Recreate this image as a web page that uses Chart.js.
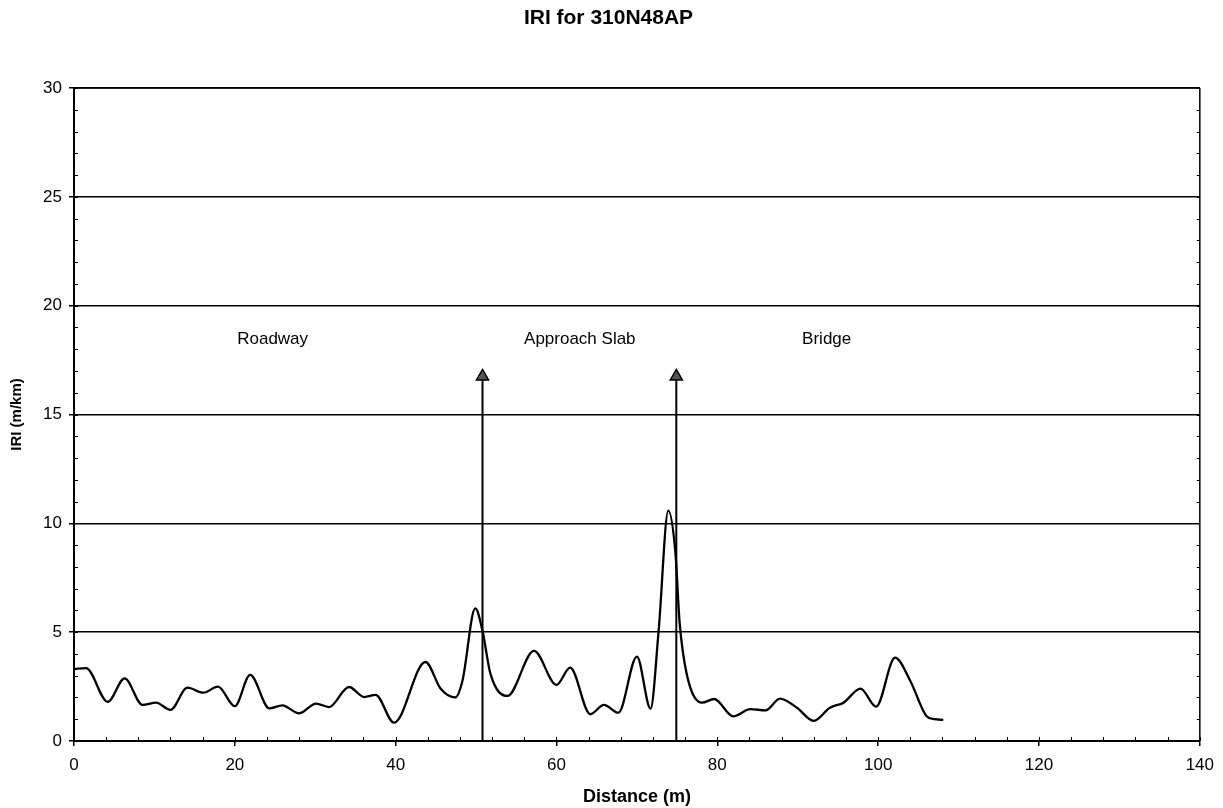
<!DOCTYPE html>
<html><head><meta charset="utf-8">
<script src="https://cdn.jsdelivr.net/npm/chart.js@4.4.0/dist/chart.umd.min.js"></script>
<style>html,body{margin:0;padding:0;background:#fff;}#wrap{width:1223px;height:808px;}</style>
</head><body><div id="wrap"><canvas id="c" width="1223" height="808"></canvas></div>
<script>
const chartTitle = 'IRI for 310N48AP';
const xAxisTitle = 'Distance (m)';
const yAxisTitle = 'IRI (m/km)';
const distance = [0, 1.5, 4.2, 6.3, 8.5, 10.2, 12.0, 14.1, 16.1, 17.9, 20.0, 21.9, 24.3, 25.9, 28.0, 30.1, 31.7, 34.2, 36.1, 37.5, 39.8, 43.7, 45.6, 47.4, 48.3, 49.9, 50.8, 51.8, 53.9, 57.2, 60.0, 61.7, 64.2, 65.9, 67.7, 70.0, 71.7, 72.7, 73.9, 74.8, 75.3, 76.2, 78.1, 79.6, 82.0, 84.1, 86.0, 87.8, 89.9, 92.0, 94.0, 95.7, 97.8, 99.75, 102.1, 104.0, 106.0, 107.0, 108.1];
const iri = [3.3, 3.35, 1.8, 2.88, 1.66, 1.76, 1.43, 2.45, 2.22, 2.5, 1.6, 3.04, 1.5, 1.64, 1.27, 1.72, 1.56, 2.48, 2.02, 2.12, 0.84, 3.63, 2.4, 2.0, 2.76, 6.09, 5.06, 3.07, 2.07, 4.14, 2.58, 3.37, 1.23, 1.66, 1.3, 3.88, 1.49, 5.06, 10.58, 8.6, 5.5, 3.07, 1.76, 1.93, 1.13, 1.46, 1.41, 1.95, 1.53, 0.92, 1.53, 1.76, 2.41, 1.58, 3.83, 2.76, 1.15, 1.0, 0.97];
const boundaryDistance = [50.8, 74.9];
const arrowTopIRI = 16.75;
const sectionNames = ['Roadway', 'Approach Slab', 'Bridge'];
const sectionLabelDistance = [24.7, 62.9, 93.6];
const sectionLabelIRI = 18.45;
const xTickValues = [0, 20, 40, 60, 80, 100, 120, 140];
const yTickValues = [0, 5, 10, 15, 20, 25, 30];
const xMinorStep = 4;
const yMinorStep = 1;

const FONT = "'Liberation Sans', Arial, sans-serif";
Chart.defaults.font.family = FONT;
Chart.defaults.color = '#000';

const framePlugin = {
  id: 'frame',
  afterDraw(chart) {
    const ctx = chart.ctx, ca = chart.chartArea, xs = chart.scales.x, ys = chart.scales.y;
    ctx.save();
    ctx.strokeStyle = '#000';
    ctx.lineWidth = 1.5;
    ctx.beginPath();
    ctx.moveTo(ca.left, ca.top); ctx.lineTo(ca.right, ca.top);
    ctx.moveTo(ca.right, ca.top); ctx.lineTo(ca.right, ca.bottom);
    ctx.stroke();
    ctx.lineWidth = 1;
    ctx.beginPath();
    const yMin = yTickValues[0], yMax = yTickValues[yTickValues.length - 1];
    for (let v = yMin; v <= yMax; v += yMinorStep) {
      const py = Math.round(ys.getPixelForValue(v)) + 0.5;
      ctx.moveTo(ca.left, py); ctx.lineTo(ca.left + 4, py);
      ctx.moveTo(ca.right - 3, py); ctx.lineTo(ca.right, py);
    }
    const xMin = xTickValues[0], xMax = xTickValues[xTickValues.length - 1];
    for (let v = xMin; v <= xMax; v += xMinorStep) {
      const px = Math.round(xs.getPixelForValue(v)) + 0.5;
      ctx.moveTo(px, ca.bottom); ctx.lineTo(px, ca.bottom - 4);
    }
    ctx.stroke();
    ctx.fillStyle = '#000';
    ctx.font = '17px ' + FONT;
    ctx.textAlign = 'center';
    ctx.textBaseline = 'middle';
    sectionNames.forEach((n, i) => {
      ctx.fillText(n, xs.getPixelForValue(sectionLabelDistance[i]), ys.getPixelForValue(sectionLabelIRI));
    });
    ctx.font = 'bold 21px ' + FONT;
    ctx.fillText(chartTitle, chart.width / 2 - 3, 18);
    ctx.restore();
  }
};

const datasets = [{
  data: distance.map((d, i) => ({x: d, y: iri[i]})),
  borderColor: '#000', borderWidth: 2.3, pointRadius: 0,
  cubicInterpolationMode: 'monotone', fill: false
}];
boundaryDistance.forEach(b => {
  datasets.push({
    data: [{x: b, y: 0}, {x: b, y: arrowTopIRI}],
    borderColor: '#000', borderWidth: 2, tension: 0,
    pointRadius: [0, 7], pointStyle: 'triangle',
    pointBackgroundColor: '#555', pointBorderColor: '#000', pointBorderWidth: 1.5,
    fill: false
  });
});

new Chart(document.getElementById('c'), {
  type: 'line',
  data: {datasets},
  options: {
    responsive: false, animation: false, devicePixelRatio: 1,
    layout: {padding: {left: 0, right: 22, top: 88, bottom: 0}},
    plugins: {legend: {display: false}, tooltip: {enabled: false}, title: {display: false}},
    scales: {
      x: {
        type: 'linear', min: 0, max: 140,
        afterBuildTicks: s => { s.ticks = xTickValues.map(v => ({value: v})); },
        afterFit: s => { s.height = 67; },
        ticks: {font: {size: 17}, color: '#000', padding: 9, maxRotation: 0},
        grid: {display: true, drawOnChartArea: false, drawTicks: true, tickLength: 5, color: '#000', lineWidth: 1.5},
        border: {display: true, color: '#000', width: 2},
        title: {display: true, text: xAxisTitle, font: {size: 18, weight: 'bold'}, color: '#000', padding: {top: 0, bottom: 0}}
      },
      y: {
        type: 'linear', min: 0, max: 30,
        afterBuildTicks: s => { s.ticks = yTickValues.map(v => ({value: v})); },
        afterFit: s => { s.width = 74; },
        ticks: {font: {size: 17}, color: '#000', padding: 7},
        grid: {display: true, drawTicks: true, tickLength: 5, color: '#000', lineWidth: 1.5},
        border: {display: true, color: '#000', width: 2},
        title: {display: true, text: yAxisTitle, font: {size: 15, weight: 'bold'}, color: '#000', padding: {top: 8, bottom: 0}}
      }
    }
  },
  plugins: [framePlugin]
});
</script></body></html>
